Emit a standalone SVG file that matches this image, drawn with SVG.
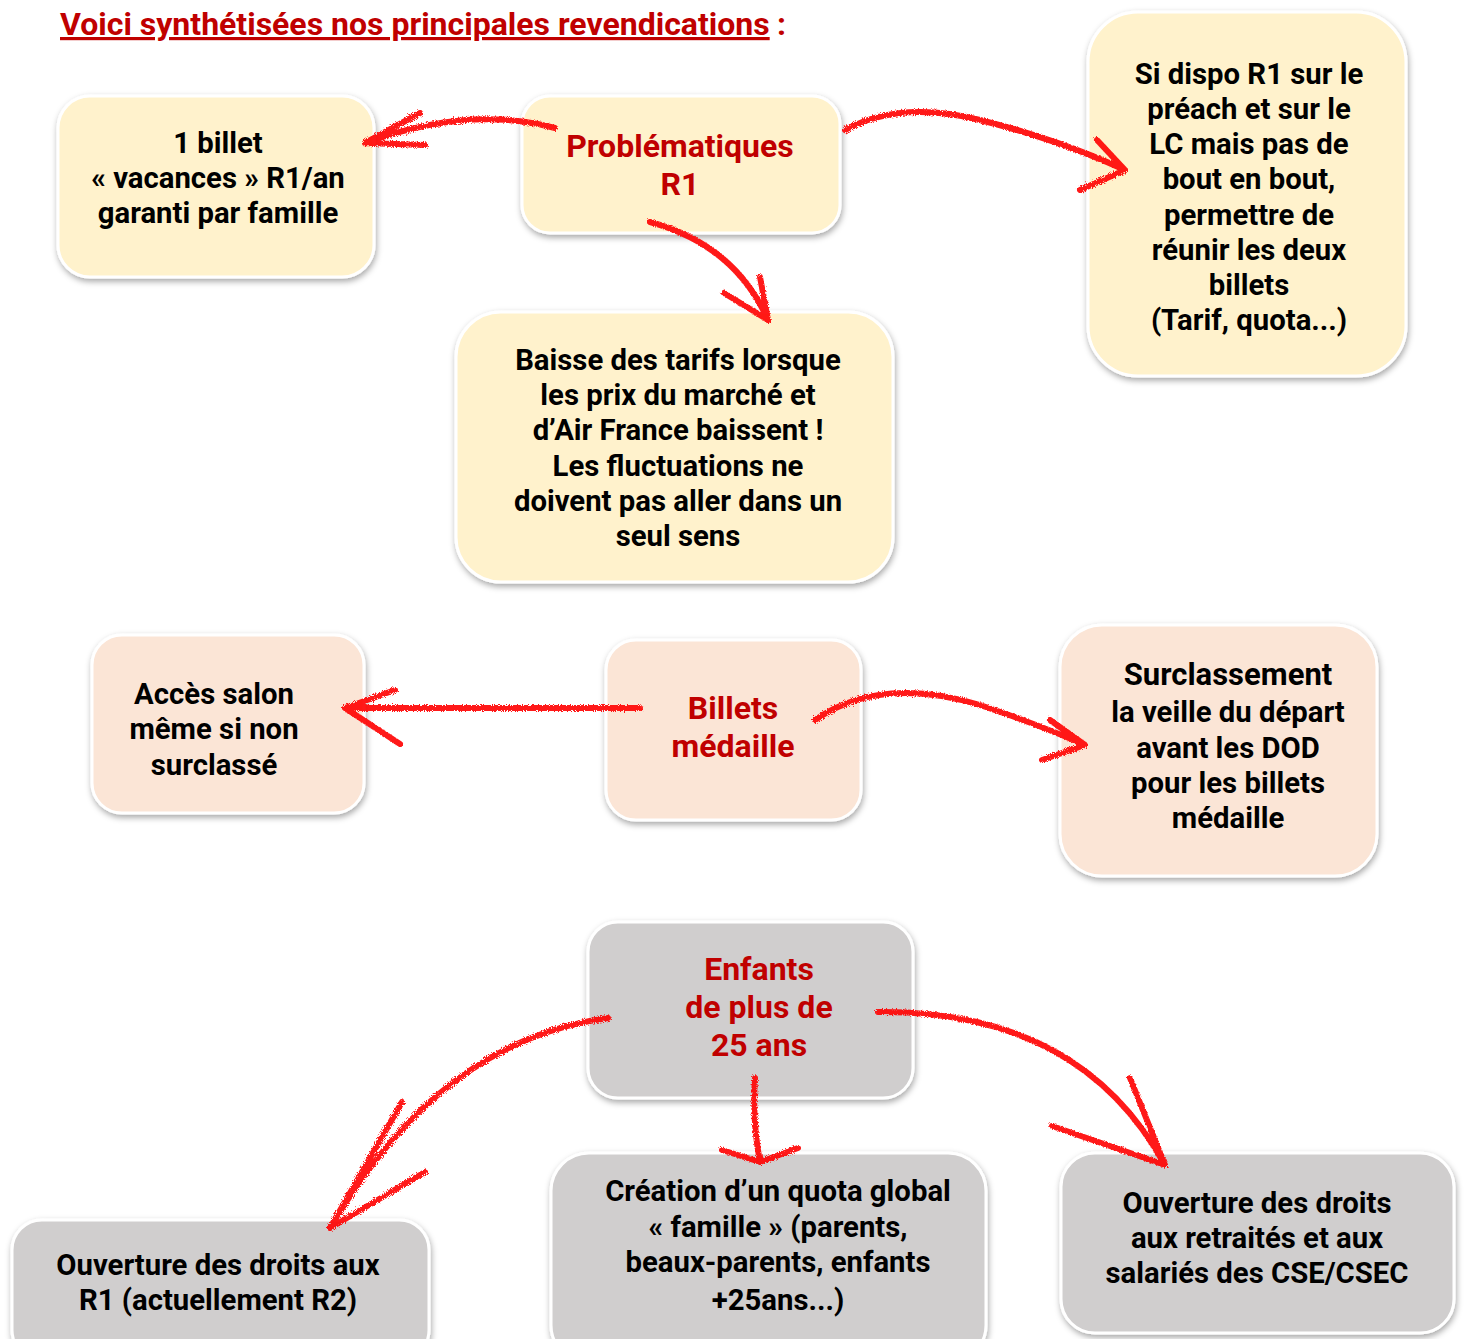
<svg xmlns="http://www.w3.org/2000/svg" width="1465" height="1339" viewBox="0 0 1465 1339">
<defs>
<filter id="sh" x="-10%" y="-10%" width="120%" height="130%">
<feDropShadow dx="1" dy="3" stdDeviation="3" flood-color="#000" flood-opacity="0.35"/>
</filter>
<filter id="crayon" x="-20%" y="-20%" width="140%" height="140%">
<feTurbulence type="fractalNoise" baseFrequency="0.9" numOctaves="2" result="n"/>
<feDisplacementMap in="SourceGraphic" in2="n" scale="5"/>
</filter>
</defs>
<style>
.box{stroke:#fff;stroke-width:3;filter:url(#sh)}
.y{fill:#FFF2CC}.p{fill:#FBE5D6}.g{fill:#D0CECE}
text{font-family:Roboto,"Liberation Sans",sans-serif;font-weight:bold;text-anchor:middle}
.t{font-size:29.3px;fill:#000}
.r{font-size:32px;fill:#C00000}
.arr path{fill:none;stroke:#FF0000;stroke-width:6;stroke-linecap:round;stroke-linejoin:round;opacity:0.9}
</style>
<rect width="1465" height="1339" fill="#fff"/>
<g id="title">
<text x="60" y="35" style="text-anchor:start;font-size:32px;fill:#C00000;text-decoration:underline">Voici synthétisées nos principales revendications</text>
<text x="777" y="35" style="text-anchor:start;font-size:32px;fill:#C00000">:</text>
</g>
<g id="n1"><rect class="box y" x="58" y="96" width="316" height="181" rx="32"/>
<text class="t"><tspan x="218" y="153">1 billet</tspan><tspan x="218" y="188">« vacances » R1/an</tspan><tspan x="218" y="223">garanti par famille</tspan></text></g>
<g id="n2"><rect class="box y" x="522" y="96" width="318" height="137" rx="28"/>
<text class="r"><tspan x="680" y="157">Problématiques</tspan><tspan x="680" y="195">R1</tspan></text></g>
<g id="n3"><rect class="box y" x="1088" y="12" width="318" height="364" rx="50"/>
<text class="t"><tspan x="1249" y="84">Si dispo R1 sur le</tspan><tspan x="1249" y="119">préach et sur le</tspan><tspan x="1249" y="154">LC mais pas de</tspan><tspan x="1249" y="189">bout en bout,</tspan><tspan x="1249" y="225">permettre de</tspan><tspan x="1249" y="260">réunir les deux</tspan><tspan x="1249" y="295">billets</tspan><tspan x="1249" y="330">(Tarif, quota...)</tspan></text></g>
<g id="n4"><rect class="box y" x="456" y="312" width="437" height="270" rx="45"/>
<text class="t"><tspan x="678" y="370">Baisse des tarifs lorsque</tspan><tspan x="678" y="405">les prix du marché et</tspan><tspan x="678" y="440">d’Air France baissent !</tspan><tspan x="678" y="476">Les fluctuations ne</tspan><tspan x="678" y="511">doivent pas aller dans un</tspan><tspan x="678" y="546">seul sens</tspan></text></g>
<g id="n5"><rect class="box p" x="92" y="635" width="272" height="178" rx="30"/>
<text class="t"><tspan x="214" y="704">Accès salon</tspan><tspan x="214" y="739">même si non</tspan><tspan x="214" y="775">surclassé</tspan></text></g>
<g id="n6"><rect class="box p" x="606" y="640" width="255" height="180" rx="30"/>
<text class="r"><tspan x="733" y="719">Billets</tspan><tspan x="733" y="757">médaille</tspan></text></g>
<g id="n7"><rect class="box p" x="1060" y="625" width="317" height="251" rx="42"/>
<text class="t"><tspan x="1228" y="685" style="font-size:31px">Surclassement</tspan><tspan x="1228" y="722">la veille du départ</tspan><tspan x="1228" y="758">avant les DOD</tspan><tspan x="1228" y="793">pour les billets</tspan><tspan x="1228" y="828">médaille</tspan></text></g>
<g id="n8"><rect class="box g" x="588" y="922" width="325" height="176" rx="30"/>
<text class="r"><tspan x="759" y="980">Enfants</tspan><tspan x="759" y="1018">de plus de</tspan><tspan x="759" y="1056">25 ans</tspan></text></g>
<g id="n9"><rect class="box g" x="12" y="1220" width="417" height="140" rx="30"/>
<text class="t"><tspan x="218" y="1275">Ouverture des droits aux</tspan><tspan x="218" y="1310">R1 (actuellement R2)</tspan></text></g>
<g id="n10"><rect class="box g" x="551" y="1153" width="435" height="210" rx="38"/>
<text class="t"><tspan x="778" y="1201">Création d’un quota global</tspan><tspan x="778" y="1237">« famille » (parents,</tspan><tspan x="778" y="1272">beaux-parents, enfants</tspan><tspan x="778" y="1310">+25ans...)</tspan></text></g>
<g id="n11"><rect class="box g" x="1061" y="1153" width="393" height="180" rx="34"/>
<text class="t"><tspan x="1257" y="1213">Ouverture des droits</tspan><tspan x="1257" y="1248">aux retraités et aux</tspan><tspan x="1257" y="1283">salariés des CSE/CSEC</tspan></text></g>
<g id="connectors" class="arr" filter="url(#crayon)">
<path d="M555 128 Q470 105 365 143 M365 143 L420 113 M365 143 L425 145" stroke-width="5"/>
<path d="M845 130 Q900 100 980 120 Q1060 140 1125 170 M1125 170 L1097 140 M1125 170 L1080 190"/>
<path d="M650 222 Q735 245 768 320 M768 320 L724 293 M768 320 L760 277"/>
<path d="M640 708 L345 708 M345 708 L395 690 M345 708 L400 744"/>
<path d="M815 720 Q880 675 980 705 Q1040 725 1085 745 M1085 745 L1050 720 M1085 745 L1042 760"/>
<path d="M608 1018 Q440 1040 330 1228 M330 1228 L425 1172 M330 1228 L402 1102"/>
<path d="M755 1078 Q752 1120 760 1162 M760 1162 L798 1148 M760 1162 L722 1150"/>
<path d="M878 1012 Q1080 1010 1165 1165 M1165 1165 L1052 1126 M1165 1165 L1130 1078"/>
</g>
</svg>
